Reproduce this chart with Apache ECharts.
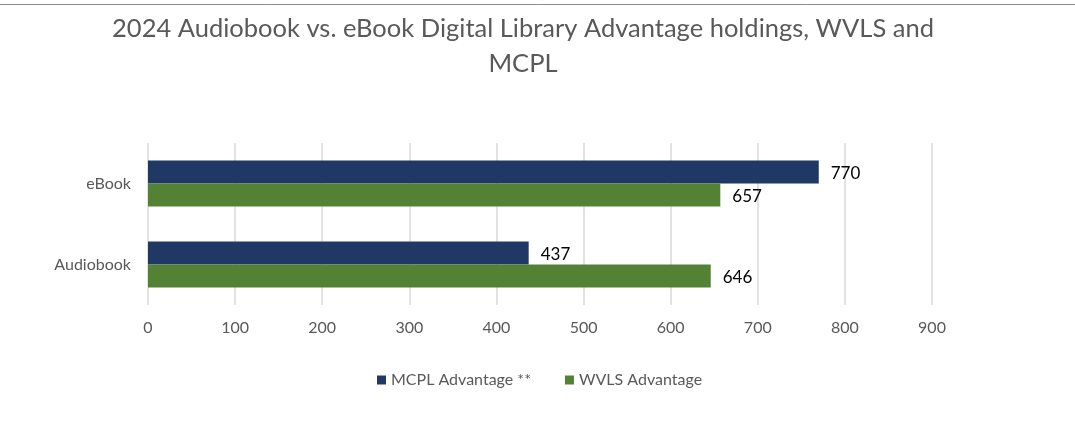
<!DOCTYPE html>
<html>
<head>
<meta charset="utf-8">
<script src="https://cdn.jsdelivr.net/npm/echarts@6/dist/echarts.min.js"></script>
<style>
  html, body { margin: 0; padding: 0; background: #fff; }
  #chart { width: 1075px; height: 423px; }
</style>
</head>
<body>
<div id="chart"></div>
<script>
const categories = ['eBook', 'Audiobook'];
const mcplValues = [770, 437];
const wvlsValues = [657, 646];
const seriesNames = ['MCPL Advantage **', 'WVLS Advantage'];

const font = 'Lato, "Open Sans", sans-serif';
const chart = echarts.init(document.getElementById('chart'));

const valueLabel = {
  show: true,
  position: 'right',
  distance: 12,
  offset: [0, 2],
  color: '#000',
  fontFamily: font,
  fontSize: 17
};

const option = {
  backgroundColor: '#fff',
  animation: false,
  title: {
    text: '2024 Audiobook vs. eBook Digital Library Advantage holdings, WVLS and\nMCPL',
    left: 518,
    top: 6,
    textAlign: 'center',
    textStyle: {
      fontFamily: font,
      fontSize: 25.5,
      fontWeight: 'normal',
      color: '#595959',
      lineHeight: 35
    }
  },
  graphic: [
    {
      type: 'line',
      shape: { x1: 0, y1: 4.5, x2: 1075, y2: 4.5 },
      style: { stroke: '#8c8c8c', lineWidth: 1 }
    }
  ],
  legend: {
    data: seriesNames,
    left: 372,
    top: 367,
    icon: 'rect',
    itemWidth: 9,
    itemHeight: 9,
    itemGap: 34,
    textStyle: { fontFamily: font, fontSize: 16, color: '#595959' }
  },
  grid: {
    left: 148,
    right: 1075 - 932,
    top: 143,
    bottom: 423 - 305
  },
  xAxis: {
    type: 'value',
    min: 0,
    max: 900,
    interval: 100,
    axisLine: { show: false },
    axisTick: { show: false },
    axisLabel: { fontFamily: font, fontSize: 16, color: '#595959', margin: 15 },
    splitLine: { lineStyle: { color: '#d9d9d9', width: 1.5 } }
  },
  yAxis: {
    type: 'category',
    data: categories,
    inverse: true,
    axisLine: { show: false },
    axisTick: { show: false },
    axisLabel: { fontFamily: font, fontSize: 16, color: '#595959', margin: 17 }
  },
  series: [
    {
      name: seriesNames[0],
      type: 'bar',
      data: mcplValues,
      barWidth: 23,
      barGap: '0%',
      itemStyle: { color: '#203864' },
      label: valueLabel
    },
    {
      name: seriesNames[1],
      type: 'bar',
      data: wvlsValues,
      barWidth: 23,
      barGap: '0%',
      itemStyle: { color: '#548235' },
      label: valueLabel
    }
  ]
};

chart.setOption(option);
window.addEventListener('resize', () => {
  chart.resize();
});
</script>
</body>
</html>
